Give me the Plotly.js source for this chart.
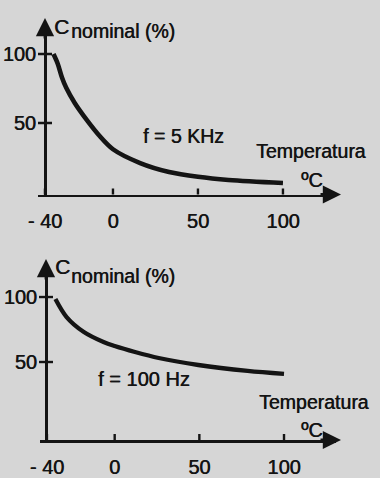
<!DOCTYPE html>
<html>
<head>
<meta charset="utf-8">
<script src="https://cdn.plot.ly/plotly-3.0.1.min.js"></script>
<style>html,body{margin:0;padding:0;background:#d6d6d6;}#chart{width:380px;height:478px;}</style>
</head>
<body>
<div id="chart"></div>
<script>
// ---- data ----
const tempTicks = [-40, 0, 50, 100];
const tempTickText = ["- 40", "0", "50", "100"];
const capTicks = [50, 100];
const capTickText = ["50", "100"];

const temp5k = [-35, -32.5, -30, -27.5, -22.5, -15, -8.5, 0, 16, 33, 50, 68, 100];
const cap5k  = [100, 93, 83, 75.5, 64.5, 51.5, 41.5, 31, 21, 14.5, 11, 8.7, 6.5];

const temp100 = [-35, -28.4, -18.2, -6.6, 0, 12, 26, 49.4, 78.5, 100];
const cap100  = [98.5, 84.6, 73.1, 65.4, 62.3, 57.7, 53.1, 47.7, 43.1, 40.8];

const label5k = "f = 5 KHz";
const label100 = "f = 100 Hz";
const yTitleMain = "C";
const yTitleSub = "nominal (%)";
const xTitle = "Temperatura";
const xUnit = "ºC";

// ---- layout helpers ----
const W = 380, H = 478;
const FONT = "Liberation Sans, Arial, Helvetica, sans-serif";
const INK = "#141414";
const SHADOW = "0.5px 0 0 #141414";
const px = v => v / W;
const py = v => 1 - v / H;

function txt(text, left, baseline, size) {
  return {
    text: text, xref: "paper", yref: "paper", showarrow: false,
    x: px(left - 1), y: py(baseline - 0.3465 * size),
    xanchor: "left", yanchor: "middle",
    font: {family: FONT, size: size, color: INK, shadow: SHADOW}
  };
}
function arrow(tipX, tipY, dx, dy) {
  return {
    text: "", xref: "paper", yref: "paper", x: px(tipX), y: py(tipY),
    showarrow: true, ax: dx, ay: dy, axref: "pixel", ayref: "pixel",
    arrowhead: 2, arrowsize: 1.3, arrowwidth: 2.8, arrowcolor: INK, standoff: 0
  };
}
// crossing tick marks placed through the axes' own scales
function xTickShapes(xref, yref, yAnchor) {
  return tempTicks.map(v => ({
    type: "line", xref: xref, yref: yref, x0: v, x1: v,
    ysizemode: "pixel", yanchor: yAnchor, y0: -6, y1: 6,
    line: {color: INK, width: 2.4}
  }));
}
function yTickShapes(yref, xPaper) {
  return capTicks.map(v => ({
    type: "line", xref: "paper", yref: yref, y0: v, y1: v,
    xsizemode: "pixel", xanchor: xPaper, x0: -7, x1: 7,
    line: {color: INK, width: 2.4}
  }));
}

const xBase = {
  showline: true, linecolor: INK, linewidth: 2.8, showgrid: false, zeroline: false,
  tickmode: "array", tickvals: tempTicks, ticktext: tempTickText,
  ticks: "outside", ticklen: 7, tickwidth: 1, tickcolor: "rgba(0,0,0,0)",
  tickfont: {family: FONT, size: 20, color: INK, shadow: SHADOW}, fixedrange: true
};
const yBase = {
  showline: true, linecolor: INK, linewidth: 2.8, showgrid: false, zeroline: false,
  tickmode: "array", tickvals: capTicks, ticktext: capTickText,
  ticks: "outside", ticklen: 4, tickwidth: 1, tickcolor: "rgba(0,0,0,0)",
  tickfont: {family: FONT, size: 20, color: INK, shadow: SHADOW}, fixedrange: true, anchor: "free"
};

const traces = [
  {x: temp5k, y: cap5k, xaxis: "x", yaxis: "y", mode: "lines",
   line: {color: INK, width: 4.6, shape: "spline", smoothing: 0.9}, hoverinfo: "skip"},
  {x: temp100, y: cap100, xaxis: "x2", yaxis: "y2", mode: "lines",
   line: {color: INK, width: 4.3, shape: "spline", smoothing: 0.9}, hoverinfo: "skip"}
];

const xr1 = [-44.1, 131.2], yr1 = [-1.8, 122.5];
const xr2 = [-44.1, 130.7], yr2 = [-10, 125.4];

const layout = {
  width: W, height: H, margin: {l: 0, r: 0, t: 0, b: 0},
  paper_bgcolor: "#d6d6d6", plot_bgcolor: "rgba(0,0,0,0)",
  showlegend: false,
  xaxis:  Object.assign({}, xBase, {domain: [px(38), px(336)], range: xr1, anchor: "y"}),
  yaxis:  Object.assign({}, yBase, {domain: [py(194.5), py(23)], range: yr1, position: px(45)}),
  xaxis2: Object.assign({}, xBase, {domain: [px(40), px(336)], range: xr2, anchor: "y2"}),
  yaxis2: Object.assign({}, yBase, {domain: [py(440), py(264)], range: yr2, position: px(46)}),
  shapes: [].concat(
    xTickShapes("x", "y", yr1[0]),
    yTickShapes("y", px(45)),
    xTickShapes("x2", "y2", yr2[0]),
    yTickShapes("y2", px(46))
  ),
  annotations: [
    arrow(341, 194.5, -22, 0),
    arrow(45, 18, 0, 22),
    arrow(341, 440, -22, 0),
    arrow(46, 259, 0, 22),
    txt(yTitleMain, 53, 34, 21),
    txt(yTitleSub, 70, 38, 19.5),
    txt(label5k, 142, 143, 19.5),
    txt(xTitle, 255, 158, 19.5),
    txt(xUnit, 300, 187, 20),
    txt(yTitleMain, 54, 274, 21),
    txt(yTitleSub, 70, 283, 19.5),
    txt(label100, 97, 386, 20),
    txt(xTitle, 258, 409, 19.5),
    txt(xUnit, 300, 437, 20)
  ]
};

Plotly.newPlot("chart", traces, layout, {displayModeBar: false, staticPlot: true});
</script>
</body>
</html>
